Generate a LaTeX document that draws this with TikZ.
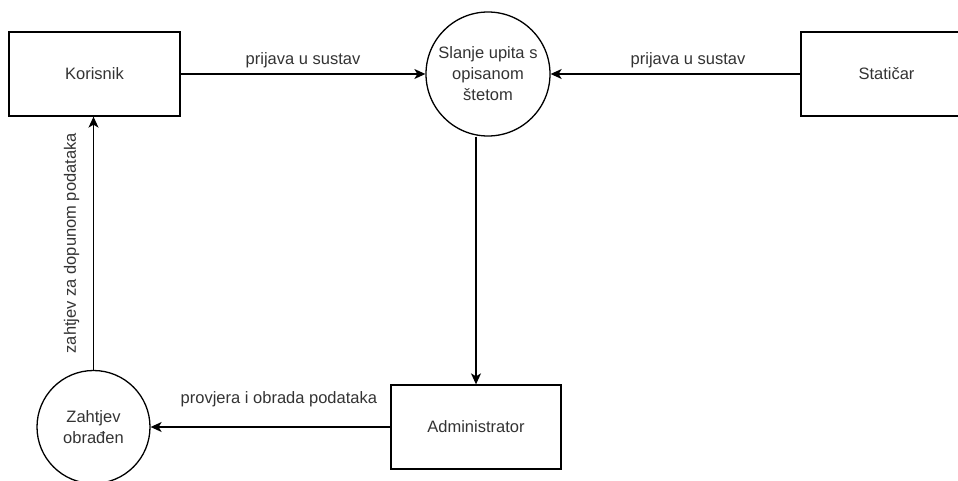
\documentclass[tikz,border=0pt]{standalone}
\usepackage{fontspec}
\setmainfont{Liberation Sans}
\usetikzlibrary{arrows.meta}

\begin{document}
\begin{tikzpicture}[x=1pt,y=-1pt,
    every node/.style={font=\fontsize{16.5}{21}\selectfont,text=black!80},
    entity/.style={draw,line width=1.3pt,minimum width=171pt,minimum height=84pt,inner sep=0pt},
    process/.style={draw,circle,line width=1.3pt,align=center,inner sep=0pt},
    flow/.style={line width=1.3pt,-{Stealth[length=11pt,width=10pt,inset=3pt]}}]
    \clip (0,0) rectangle (958,481);
    \node[entity] (korisnik) at (94.5,74) {Korisnik};
    \node[entity] (staticar) at (886.5,74) {Statičar};
    \node[entity,minimum width=170pt] (administrator) at (476,427) {Administrator};
    \node[process,minimum size=124pt] (upit) at (488,74) {Slanje upita s\\opisanom\\štetom};
    \node[process,minimum size=113pt] (zahtjev) at (93.5,427) {Zahtjev\\obrađen};

    \draw[flow] (korisnik.east) -- (upit.west) node[midway,yshift=14pt] {prijava u sustav};
    \draw[flow] (staticar.west) -- (upit.east) node[pos=0.45,yshift=14pt] {prijava u sustav};
    \draw[flow] (administrator.north |- upit.south) -- (administrator.north);
    \draw[flow] (administrator.west) -- (zahtjev.east) node[pos=0.465,yshift=28pt] {provjera i obrada podataka};
    \draw[flow] (zahtjev.north) -- (zahtjev.north |- korisnik.south) node[midway,xshift=-22pt,rotate=90] {zahtjev za dopunom podataka};
\end{tikzpicture}
\end{document}
